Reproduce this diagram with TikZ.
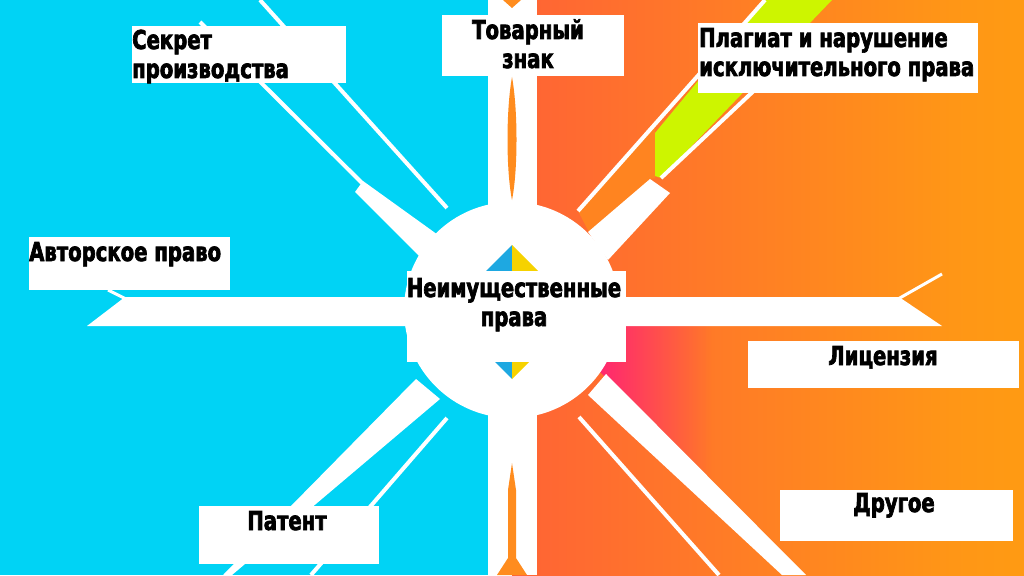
\documentclass[tikz,border=0pt]{standalone}
\usepackage{fontspec}
\usetikzlibrary{fadings}
\newfontfamily\lblfont{DejaVu Sans}[FakeStretch=0.755,FakeBold=2.6]
\definecolor{cyanbg}{RGB}{0,211,245}
\definecolor{orA}{RGB}{255,98,54}
\definecolor{orB}{RGB}{255,124,38}
\definecolor{orC}{RGB}{255,150,22}
\definecolor{orD}{RGB}{255,170,6}
\definecolor{orLight}{RGB}{255,132,32}
\definecolor{pinkc}{RGB}{255,40,112}
\definecolor{limec}{RGB}{205,245,0}
\definecolor{slitc}{RGB}{255,140,30}
\definecolor{diablue}{RGB}{30,168,225}
\definecolor{diayel}{RGB}{246,210,0}
\pgfdeclarehorizontalshading{orangebg}{100bp}{color(0bp)=(orA); color(24bp)=(orA); color(46bp)=(orB); color(68bp)=(orC); color(100bp)=(orD)}
\tikzset{
  wbox/.style={fill=white, draw=none, inner sep=0pt, anchor=north west, rectangle},
  lbl/.style={inner sep=0pt, font=\lblfont\bfseries\fontsize{26}{29}\selectfont, text=black},
  thinray/.style={draw=white, line width=4pt, line cap=butt},
}
\begin{document}
\begin{tikzpicture}[x=1pt,y=-1pt]
\useasboundingbox (0,0) rectangle (1024,575);
% backgrounds
\fill[cyanbg] (0,0) rectangle (512,575);
\shade[shading=orangebg] (512,0) rectangle (1024,575);
% lighter orange wedge beside the upper-right ray
\fill[orLight] (578,211) -- (655,124) -- (655,178) -- (650,179) -- (590,234) -- cycle;
% pink region
\fill[pinkc, path fading=east] (600,326) -- (712,326) -- (712,484) -- (600,372) -- cycle;
% lime band
\fill[limec] (765,0) -- (832,0) -- (661,178) -- (655,176) -- (655,133) -- cycle;
% vertical white band
\fill[white] (488,0) rectangle (537,575);
\fill[slitc] (503,0) -- (521,0) -- (512,8) -- cycle;
\fill[slitc] (512,77) .. controls (518,110) and (518,170) .. (512,200) .. controls (506,170) and (506,110) .. (512,77) -- cycle;
\fill[slitc] (512,463) -- (516,490) -- (516,558) -- (527,575) -- (497,575) -- (508,558) -- (508,490) -- cycle;
% horizontal white band
\fill[white] (512,297) -- (125,297) -- (87,326) -- (512,326) -- cycle;
\draw[thinray, line width=3pt] (126,299) -- (108,290);
\fill[white] (512,297) -- (899,297) -- (942,326) -- (512,326) -- cycle;
\draw[thinray, line width=3pt] (898,299) -- (942,274);
% upper-left rays
\coordinate (ulA) at (200,22);
\coordinate (ulB) at (362,183);
\draw[thinray] (ulA) -- (ulB);
\draw[thinray] (260,0) -- (447,208);
\fill[white] (355,192) -- (363,181) -- (445,240) -- (425,262) -- cycle;
% upper-right rays
\draw[thinray] (765,0) -- (578,211);
\draw[thinray] (760,85) -- (661,178);
\fill[white] (650,179) -- (670,193) -- (608,260) -- (588,232) -- cycle;
% lower-left rays
\fill[white] (416,379) -- (440,399) -- (232,575) -- (223,575) -- cycle;
\draw[thinray] (447,418) -- (311,575);
% lower-right rays
\fill[white] (606,374) -- (588,395) -- (782,575) -- (806,575) -- cycle;
\draw[thinray] (579,417) -- (719,575);
% circle
\fill[white] (512,310) circle[radius=108];
% diamond
\fill[diablue] (512,245) -- (445,312) -- (512,379) -- cycle;
\fill[diayel] (512,245) -- (579,312) -- (512,379) -- cycle;
% boxes
\node[wbox, minimum width=214, minimum height=57] (b1) at (132,26) {};
\node[wbox, minimum width=182, minimum height=61] (b2) at (442,15) {};
\node[wbox, minimum width=280, minimum height=70] (b3) at (698,23) {};
\node[wbox, minimum width=201, minimum height=53] (b4) at (29,237) {};
\node[wbox, minimum width=219, minimum height=91] (b5) at (407,271) {};
\node[wbox, minimum width=271, minimum height=47] (b6) at (748,341) {};
\node[wbox, minimum width=180, minimum height=58] (b7) at (199,506) {};
\node[wbox, minimum width=233, minimum height=51] (b8) at (780,490) {};
% texts
\node[lbl, anchor=base west] (t1) at (132,49) {\begin{tabular}[t]{@{}l@{}}Секрет\\производства\end{tabular}};
\node[lbl, anchor=base] (t2) at (528,39) {\begin{tabular}[t]{@{}c@{}}Товарный\\знак\end{tabular}};
\node[lbl, anchor=base west] (t3) at (699,47) {\begin{tabular}[t]{@{}l@{}}Плагиат и нарушение\\исключительного права\end{tabular}};
\node[lbl, anchor=base west] (t4) at (29,261) {Авторское право};
\node[lbl, anchor=base] (t5) at (514,297) {\begin{tabular}[t]{@{}c@{}}Неимущественные\\права\end{tabular}};
\node[lbl, anchor=base] (t6) at (883,365) {Лицензия};
\node[lbl, anchor=base] (t7) at (287,530) {Патент};
\node[lbl, anchor=base] (t8) at (894,512) {Другое};
\end{tikzpicture}
\end{document}
